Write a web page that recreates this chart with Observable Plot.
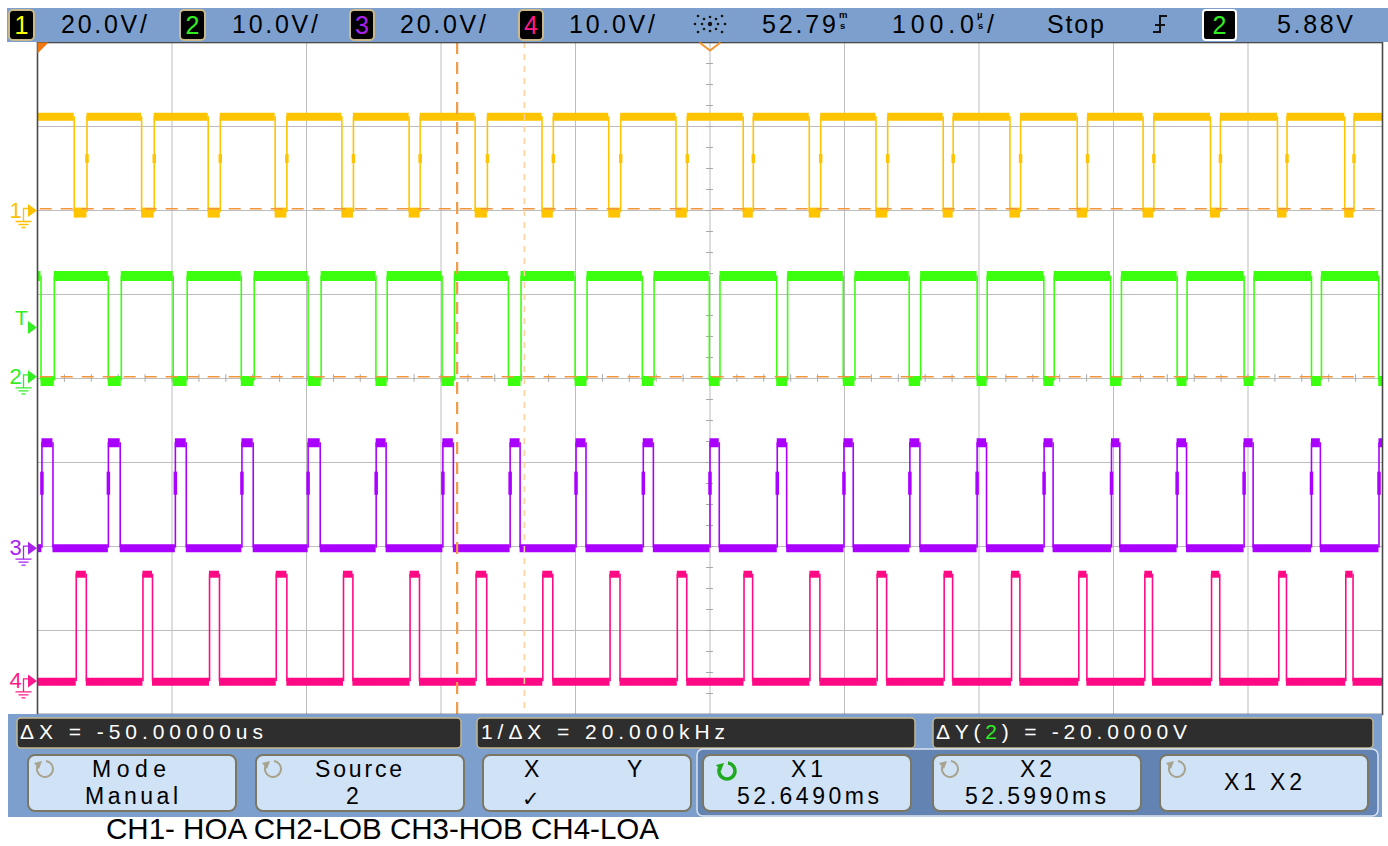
<!DOCTYPE html>
<html>
<head>
<meta charset="utf-8">
<script src="https://cdn.jsdelivr.net/npm/d3@7"></script>
<script src="https://cdn.jsdelivr.net/npm/@observablehq/plot@0.6"></script>
<style>
html, body { margin: 0; padding: 0; background: #ffffff; }
#wrap { position: relative; width: 1388px; height: 846px; overflow: hidden; }
#plot { position: absolute; left: 0; top: 0; }
#chrome { position: absolute; left: 0; top: 0; pointer-events: none; }
</style>
</head>
<body>
<div id="wrap">
  <div id="plot"></div>
  <svg id="chrome" width="1388" height="846" font-family="'Liberation Sans', Arial, sans-serif"></svg>
</div>
<script>
// ---------------- DATA ----------------
const channelIds   = ["1", "2", "3", "4"];
const channelNames = ["HOA", "LOB", "HOB", "LOA"];
const voltsPerDiv  = [20, 10, 20, 10];
const offsetDiv    = [2.0, 0.02, -2.02, -3.6];   // channel ground position (divisions from centre)
const highVolts    = [22.3, 12.0, 25.1, 12.7];
const lowVolts     = [-0.5, -0.5, 0.0, -0.1];
const startsHigh   = [true, true, false, false];

// edge times in µs relative to screen centre (alternating transitions)
const hoaEdgesUs = [-472.7, -463.2, -422.6, -413.2, -373.1, -364.1, -323.3, -314.6, -273.7, -265.1,
  -223.7, -215.5, -174.6, -165.5, -124.9, -116.5, -75.3, -66.4, -25.3, -16.9,
  24.7, 32.2, 73.8, 82.3, 123.4, 132.1, 173.4, 180.8, 223.0, 230.9,
  273.0, 280.7, 322.0, 330.0, 372.1, 379.5, 421.9, 429.0, 471.9, 478.8];
const lobEdgesUs = [-497.4, -487.5, -447.4, -437.7, -399.1, -388.7, -348.5, -338.9, -298.8, -289.1,
  -248.4, -240.0, -199.2, -190.0, -149.9, -140.5, -100.3, -91.4, -50.3, -41.6,
  -0.5, 7.4, 49.6, 57.7, 99.1, 107.8, 148.1, 156.6, 198.6, 206.1,
  248.2, 255.9, 297.8, 305.9, 347.3, 354.7, 397.1, 404.5, 447.2, 454.6, 497.2];
const hobEdgesUs = [-496.7, -488.5, -447.3, -438.5, -397.5, -389.4, -348.0, -339.6, -298.8, -289.8,
  -248.2, -240.8, -198.6, -190.8, -148.6, -141.2, -99.6, -92.2, -49.6, -42.1,
  0.0, 6.9, 50.0, 57.0, 99.6, 106.5, 148.6, 156.1, 198.6, 205.6,
  248.4, 255.1, 298.5, 304.7, 347.3, 354.3, 397.1, 403.8, 447.2, 453.8, 497.4];
const loaEdgesUs = [-471.2, -463.7, -421.6, -414.5, -372.1, -364.7, -322.5, -314.6, -272.5, -265.5,
  -223.0, -216.0, -173.9, -166.0, -124.3, -116.9, -74.3, -66.9, -24.3, -17.3,
  25.3, 31.7, 74.3, 81.7, 124.3, 131.3, 174.1, 180.4, 224.2, 230.4,
  274.2, 280.2, 323.3, 329.0, 372.9, 379.0, 422.9, 428.6, 472.7, 478.1];
// short pause seen part-way up the rising edges of the high-side gates (volts)
const hoaRisePauseV = [11.2, 13.3];
const hobRisePauseV = [12.6, 18.1];

const centreTimeMs  = 52.787;
const timePerDivUs  = 100;
const cursorX1Ms    = 52.649;
const cursorX2Ms    = 52.599;
const cursorYVolts  = [20, 0];      // on channel 2
const triggerVolts  = 5.88;         // channel 2

const gridXUs = [-500, -400, -300, -200, -100, 0, 100, 200, 300, 400, 500];
const gridYDiv = [-4, -3, -2, -1, 0, 1, 2, 3, 4];
const minorXUs = d3.range(-500, 501, timePerDivUs / 5);
const minorYDiv = d3.range(-4, 4.001, 0.25);

// ---------------- STYLE ----------------
const traceColor  = ["#ffc400", "#3cff10", "#aa00ff", "#ff0a84"];
const markerColor = ["#ffc000", "#33ee22", "#aa22ee", "#ff1a8c"];
const bandHighPx  = [8, 10, 9, 7];
const bandLowPx   = [10, 10, 8, 8];

// ---------------- BUILD ----------------
const edgeLists = [hoaEdgesUs, lobEdgesUs, hobEdgesUs, loaEdgesUs];
const risePause = [hoaRisePauseV, null, hobRisePauseV, null];
const yOf = (ch, v) => offsetDiv[ch] + v / voltsPerDiv[ch];
const plateaus = [], edges = [], pauses = [];
edgeLists.forEach((list, ch) => {
  let high = startsHigh[ch], prev = gridXUs[0];
  const yH = yOf(ch, highVolts[ch]), yL = yOf(ch, lowVolts[ch]);
  for (const t of list) {
    plateaus.push({ch, high, x1: prev, x2: t, y: high ? yH : yL});
    edges.push({ch, x: t, y1: yL, y2: yH});
    if (!high && risePause[ch]) pauses.push({ch, x: t, y1: yOf(ch, risePause[ch][0]), y2: yOf(ch, risePause[ch][1])});
    high = !high; prev = t;
  }
  plateaus.push({ch, high, x1: prev, x2: gridXUs[gridXUs.length - 1], y: high ? yH : yL});
});

const sym = fn => ({draw(c) { fn(c); }});
const triRight = sym(c => { c.moveTo(-4.5, -6.5); c.lineTo(4.5, 0); c.lineTo(-4.5, 6.5); c.closePath(); });
const gndGlyph = sym(c => {
  c.moveTo(-9, -2); c.lineTo(-14, -2); c.lineTo(-14, 11);
  c.moveTo(-22, 11); c.lineTo(-6, 11);
  c.moveTo(-19, 14); c.lineTo(-9, 14);
  c.moveTo(-16, 17); c.lineTo(-12, 17);
});
const cornerTri = sym(c => { c.moveTo(0, 0); c.lineTo(11, 0); c.lineTo(0, 11); c.closePath(); });
const vMark = sym(c => { c.moveTo(-10.5, 0); c.lineTo(0, 8); c.lineTo(10.5, 0); });

const groundMarkers = channelIds.map((id, ch) => ({id, ch, y: offsetDiv[ch], color: markerColor[ch]}));
const trigMarker = [{id: "T", y: offsetDiv[1] + triggerVolts / voltsPerDiv[1], color: markerColor[1]}];

const x1Us = (cursorX1Ms - centreTimeMs) * 1000;
const x2Us = (cursorX2Ms - centreTimeMs) * 1000;

const marks = [
  Plot.ruleX(gridXUs, {stroke: "#bdbdbd", strokeWidth: 1}),
  Plot.ruleY(gridYDiv, {stroke: "#bdbdbd", strokeWidth: 1}),
  Plot.ruleX(minorXUs, {x: d => d, y1: -0.045, y2: 0.045, stroke: "#a9a9a9", strokeWidth: 1}),
  Plot.ruleY(minorYDiv, {y: d => d, x1: -2.6, x2: 2.6, stroke: "#a9a9a9", strokeWidth: 1})
];
for (let ch = 0; ch < 4; ch++) {
  marks.push(Plot.ruleX(edges.filter(d => d.ch === ch), {x: "x", y1: "y1", y2: "y2", stroke: traceColor[ch], strokeWidth: 1.6}));
  marks.push(Plot.ruleX(pauses.filter(d => d.ch === ch), {x: "x", y1: "y1", y2: "y2", stroke: traceColor[ch], strokeWidth: 3.5}));
  marks.push(Plot.ruleY(plateaus.filter(d => d.ch === ch && d.high), {x1: "x1", x2: "x2", y: "y", stroke: traceColor[ch], strokeWidth: bandHighPx[ch]}));
  marks.push(Plot.ruleY(plateaus.filter(d => d.ch === ch && !d.high), {x1: "x1", x2: "x2", y: "y", stroke: traceColor[ch], strokeWidth: bandLowPx[ch]}));
}
marks.push(
  Plot.ruleY(cursorYVolts, {y: v => yOf(1, v), x1: -498, x2: 500, stroke: "#f2963c", strokeWidth: 1.6, strokeDasharray: "12,9"}),
  Plot.ruleX([x2Us], {x: d => d, stroke: "#f29a45", strokeWidth: 2.2, strokeDasharray: "12,8"}),
  Plot.ruleX([x1Us], {x: d => d, stroke: "#ffcf9c", strokeWidth: 1.6, strokeDasharray: "6,6"}),
  Plot.frame({stroke: "#4a4a4a", strokeWidth: 1.6}),
  Plot.dot([0], {x: gridXUs[0], y: gridYDiv[gridYDiv.length - 1], symbol: cornerTri, fill: "#f07812", stroke: "none"}),
  Plot.dot([0], {x: 0, y: gridYDiv[gridYDiv.length - 1], symbol: vMark, fill: "none", stroke: "#f39530", strokeWidth: 2}),
  Plot.text(groundMarkers, {x: gridXUs[0], y: "y", text: "id", fill: "color", dx: -22, fontSize: 22, textAnchor: "middle", fontFamily: "Liberation Sans"}),
  Plot.dot(groundMarkers, {x: gridXUs[0], y: "y", symbol: triRight, fill: "color", stroke: "none", dx: -5}),
  Plot.dot(groundMarkers, {x: gridXUs[0], y: "y", symbol: gndGlyph, fill: "none", stroke: "color", strokeWidth: 1.3}),
  Plot.text(trigMarker, {x: gridXUs[0], y: "y", text: "id", fill: "color", dx: -16, dy: -9, fontSize: 21, textAnchor: "middle", fontFamily: "Liberation Sans"}),
  Plot.dot(trigMarker, {x: gridXUs[0], y: "y", symbol: triRight, fill: "color", stroke: "none", dx: -5})
);

const chart = Plot.plot({
  width: 1388, height: 714,
  marginLeft: 37, marginRight: 6, marginTop: 42, marginBottom: 0,
  x: {domain: [gridXUs[0], gridXUs[gridXUs.length - 1]], axis: null},
  y: {domain: [gridYDiv[0], gridYDiv[gridYDiv.length - 1]], axis: null},
  color: {type: "identity"},
  style: {background: "transparent", overflow: "visible"},
  marks
});
document.getElementById("plot").appendChild(chart);

// ---------------- SCOPE CHROME (header / softkeys / caption) ----------------
const fmtV = v => `${v.toFixed(1)}V/`;
const dX = (cursorX1Ms - cursorX2Ms) * -1000;
const chrome = d3.select("#chrome");
// header bar
chrome.append("rect").attr("x", 7).attr("y", 8).attr("width", 1381).attr("height", 34).attr("fill", "#7d9fcd");
const hdrBoxes = [[9, 25], [180, 25], [350, 24], [519, 24]];
const hdrTexts = [61, 232, 400, 569];
channelIds.forEach((id, ch) => {
  const [bx, bw] = hdrBoxes[ch];
  chrome.append("rect").attr("x", bx).attr("y", 10).attr("width", bw).attr("height", 30).attr("rx", 4)
    .attr("fill", "#000").attr("stroke", "#c9b98a").attr("stroke-width", 2);
  chrome.append("text").attr("x", bx + bw / 2).attr("y", 34).attr("text-anchor", "middle")
    .attr("font-size", 25).attr("fill", ch === 0 ? "#ffff00" : markerColor[ch]).text(id);
  chrome.append("text").attr("x", hdrTexts[ch]).attr("y", 33).attr("font-size", 25)
    .attr("textLength", 86).attr("lengthAdjust", "spacing").text(fmtV(voltsPerDiv[ch]));
});
// acquisition "sun" icon
const sun = chrome.append("g").attr("fill", "#111");
sun.append("circle").attr("cx", 710).attr("cy", 24).attr("r", 2.2);
[[-8, 0], [8, 0], [0, -7], [0, 7], [-6, -5], [6, -5], [-6, 5], [6, 5], [-15, 0], [15, 0], [-12, -8], [12, -8], [-12, 8], [12, 8]]
  .forEach(([dx, dy]) => sun.append("circle").attr("cx", 710 + dx).attr("cy", 24 + dy).attr("r", 1.3));
// time / timebase (units stacked)
chrome.append("text").attr("x", 762).attr("y", 33).attr("font-size", 25).attr("textLength", 74).attr("lengthAdjust", "spacing").text(centreTimeMs.toFixed(2));
const msT = chrome.append("text").attr("font-size", 9.5).attr("font-weight", "bold");
msT.append("tspan").attr("x", 839).attr("y", 18).text("m");
msT.append("tspan").attr("x", 840).attr("y", 29).text("s");
chrome.append("text").attr("x", 892).attr("y", 33).attr("font-size", 25).attr("textLength", 82).attr("lengthAdjust", "spacing").text(timePerDivUs.toFixed(1));
const usT = chrome.append("text").attr("font-size", 9.5).attr("font-weight", "bold");
usT.append("tspan").attr("x", 977).attr("y", 18).text("µ");
usT.append("tspan").attr("x", 978).attr("y", 29).text("s");
chrome.append("text").attr("x", 987).attr("y", 33).attr("font-size", 25).text("/");
chrome.append("text").attr("x", 1047).attr("y", 33).attr("font-size", 25).attr("textLength", 57).attr("lengthAdjust", "spacing").text("Stop");
chrome.append("path").attr("d", "M1167,16 H1160 V32 H1153 M1155,25 H1165").attr("fill", "none").attr("stroke", "#111").attr("stroke-width", 2);
chrome.append("rect").attr("x", 1203).attr("y", 10).attr("width", 33).attr("height", 30).attr("rx", 3)
  .attr("fill", "#000").attr("stroke", "#ffffff").attr("stroke-width", 2);
chrome.append("text").attr("x", 1219.5).attr("y", 34).attr("text-anchor", "middle").attr("font-size", 25).attr("fill", "#33ee22").text(channelIds[1]);
chrome.append("text").attr("x", 1277).attr("y", 33).attr("font-size", 25).attr("textLength", 76).attr("lengthAdjust", "spacing").text(`${triggerVolts.toFixed(2)}V`);

// footer panel
chrome.append("rect").attr("x", 8).attr("y", 714).attr("width", 1374).attr("height", 103).attr("fill", "#7d9fcd");
const measBoxes = [[17, 444], [477, 438], [933, 440]];
measBoxes.forEach(([x, w]) => chrome.append("rect").attr("x", x).attr("y", 718).attr("width", w).attr("height", 30).attr("rx", 4)
  .attr("fill", "#2e2e2e").attr("stroke", "#c3b88f").attr("stroke-width", 1.5));
chrome.append("text").attr("x", 20).attr("y", 739).attr("font-size", 21).attr("fill", "#fff")
  .attr("textLength", 243).attr("lengthAdjust", "spacing").text(`ΔX = ${dX.toFixed(5)}us`);
chrome.append("text").attr("x", 481).attr("y", 739).attr("font-size", 21).attr("fill", "#fff")
  .attr("textLength", 244).attr("lengthAdjust", "spacing").text(`1/ΔX = ${(1000 / Math.abs(dX)).toFixed(3)}kHz`);
const dy = chrome.append("text").attr("x", 936).attr("y", 739).attr("font-size", 21).attr("fill", "#fff")
  .attr("textLength", 251).attr("lengthAdjust", "spacing");
dy.append("tspan").text("ΔY(");
dy.append("tspan").attr("fill", "#33ee22").text(channelIds[1]);
dy.append("tspan").text(`) = ${(cursorYVolts[1] - cursorYVolts[0]).toFixed(4)}V`);

// softkey group panel
chrome.append("rect").attr("x", 697).attr("y", 749).attr("width", 681).attr("height", 67).attr("rx", 6)
  .attr("fill", "#6384b2").attr("stroke", "#dbe4f0").attr("stroke-width", 1.5);
const btnX = [28, 256, 483, 703, 933, 1160];
btnX.forEach(x => chrome.append("rect").attr("x", x).attr("y", 755).attr("width", 208).attr("height", 56).attr("rx", 7)
  .attr("fill", "#d0e2f6").attr("stroke", "#7a7765").attr("stroke-width", 2));
// rotary icons
const icon = (cx, cy, col, w) => {
  chrome.append("path").attr("d", `M${cx - 7},${cy - 4} A8 8 0 1 0 ${cx + 1},${cy - 8}`)
    .attr("fill", "none").attr("stroke", col).attr("stroke-width", w);
  chrome.append("path").attr("d", `M${cx - 11},${cy - 6} L${cx - 3},${cy - 8} L${cx - 6},${cy}`).attr("fill", col);
};
[45, 273, 950, 1177].forEach(x => icon(x, 769, "#a8a38d", 2));
icon(727, 771, "#1faa1f", 3.5);
// softkey labels
const btnText = (x, y, s, len, size = 23, font) => {
  const t = chrome.append("text").attr("x", x).attr("y", y).attr("font-size", size).attr("fill", "#000").text(s);
  if (len) t.attr("textLength", len).attr("lengthAdjust", "spacing");
  if (font) t.attr("font-family", font);
};
btnText(92, 777, "Mode", 74);
btnText(85, 804, "Manual", 93);
btnText(315, 777, "Source", 87);
btnText(346, 804, channelIds[1]);
btnText(524, 777, "X");
btnText(627, 777, "Y");
btnText(522, 806, "✓", 0, 21, "DejaVu Sans");
btnText(791, 777, "X1", 32);
btnText(737, 804, `${cursorX1Ms.toFixed(4)}ms`, 142);
btnText(1020, 777, "X2", 32);
btnText(965, 804, `${cursorX2Ms.toFixed(4)}ms`, 141);
btnText(1224, 790, "X1 X2", 78);

// caption
chrome.append("text").attr("x", 106).attr("y", 839).attr("font-size", 29).attr("fill", "#000")
  .attr("textLength", 553).attr("lengthAdjust", "spacingAndGlyphs")
  .text(channelNames.map((n, i) => `CH${channelIds[i]}-${i === 0 ? " " : ""}${n}`).join(" "));
</script>
</body>
</html>
